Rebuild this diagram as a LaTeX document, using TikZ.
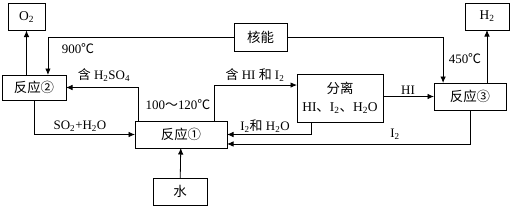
\documentclass[tikz,border=0pt]{standalone}
\usepackage{fontspec}
\setmainfont{Liberation Serif}
\newfontfamily\cjk{Noto Sans CJK SC}
\usetikzlibrary{arrows.meta}
\newcommand{\zh}[1]{{\cjk #1}}
\tikzset{
  box/.style={
    draw, line width=0.8pt,
    inner sep=0, outer sep=0,
    font=\fontsize{13.5}{18}\selectfont
  },
  arr/.style={-{Latex[length=6.5bp,width=5.5bp]}, line width=0.8pt},
  lbl/.style={inner sep=0, font=\fontsize{13}{16}\selectfont}
}

\begin{document}
\begin{tikzpicture}[x=1bp,y=-1bp]
\useasboundingbox (0,0) rectangle (510,206);

%%%%%%%%% boxes
  \node[box, minimum width=37bp, minimum height=27bp] (o2) at (26.5,17) {O\textsubscript{2}};
  \node[box, minimum width=53bp, minimum height=28bp] (heneng) at (260.5,37) {\zh{核能}};
  \node[box, minimum width=44bp, minimum height=27bp] (h2) at (487,16.5) {H\textsubscript{2}};
  \node[box, minimum width=64bp, minimum height=25bp] (r2) at (34,87.5) {\zh{反应②}};
  \node[box, minimum width=92bp, minimum height=27bp] (r1) at (181,134.5) {\zh{反应①}};
  \node[box, minimum width=54bp, minimum height=27bp] (water) at (180,191.5) {\zh{水}};
  \node[box, minimum width=86bp, minimum height=48bp, align=center] (sep) at (340,98)
    {\zh{分离}\\HI\zh{、}I\textsubscript{2}\zh{、}H\textsubscript{2}O};
  \node[box, minimum width=72bp, minimum height=27bp] (r3) at (470,96.5) {\zh{反应③}};

%%%%%%%%% connectors
  \draw[arr] (o2 |- r2.north) -- (o2.south);
  \draw[arr] (h2 |- r3.north) -- (h2.south);
  \draw[arr] (heneng.west) -| ([xshift=14]r2.north);
  \draw[arr] (heneng.east) -| ([xshift=-27]r3.north);
  \draw[arr] ([xshift=3]r1.north west) |- (r2.east);
  \draw[arr] ([xshift=-13]r1.north east) |- ([yshift=13]sep.west);
  \draw[arr] (sep.east |- r3.west) -- (r3.west);
  \draw[arr] (r2.south) |- (r1.west);
  \draw[arr] ([xshift=-29]sep.south) |- (r1.east);
  \draw[arr] (r3.south) |- ([yshift=-9.5]r1.east);
  \draw[arr] (water) -- (r1);

%%%%%%%%% labels
  \node[lbl] (t900) at (78,49) {900\zh{℃}};
  \node[lbl] (t450) at (465,59) {450\zh{℃}};
  \node[lbl] (th2so4) at (104,75) {\zh{含} H\textsubscript{2}SO\textsubscript{4}};
  \node[lbl] (ttemp) at (178,105) {100\zh{～}120\zh{℃}};
  \node[lbl] (thi2) at (255,75) {\zh{含} HI \zh{和} I\textsubscript{2}};
  \node[lbl] (thi) at (408,90) {HI};
  \node[lbl] (tso2) at (80,126) {SO\textsubscript{2}+H\textsubscript{2}O};
  \node[lbl] (ti2h2o) at (265,126) {I\textsubscript{2}\zh{和} H\textsubscript{2}O};
  \node[lbl] (ti2) at (395,134) {I\textsubscript{2}};

\end{tikzpicture}
\end{document}
